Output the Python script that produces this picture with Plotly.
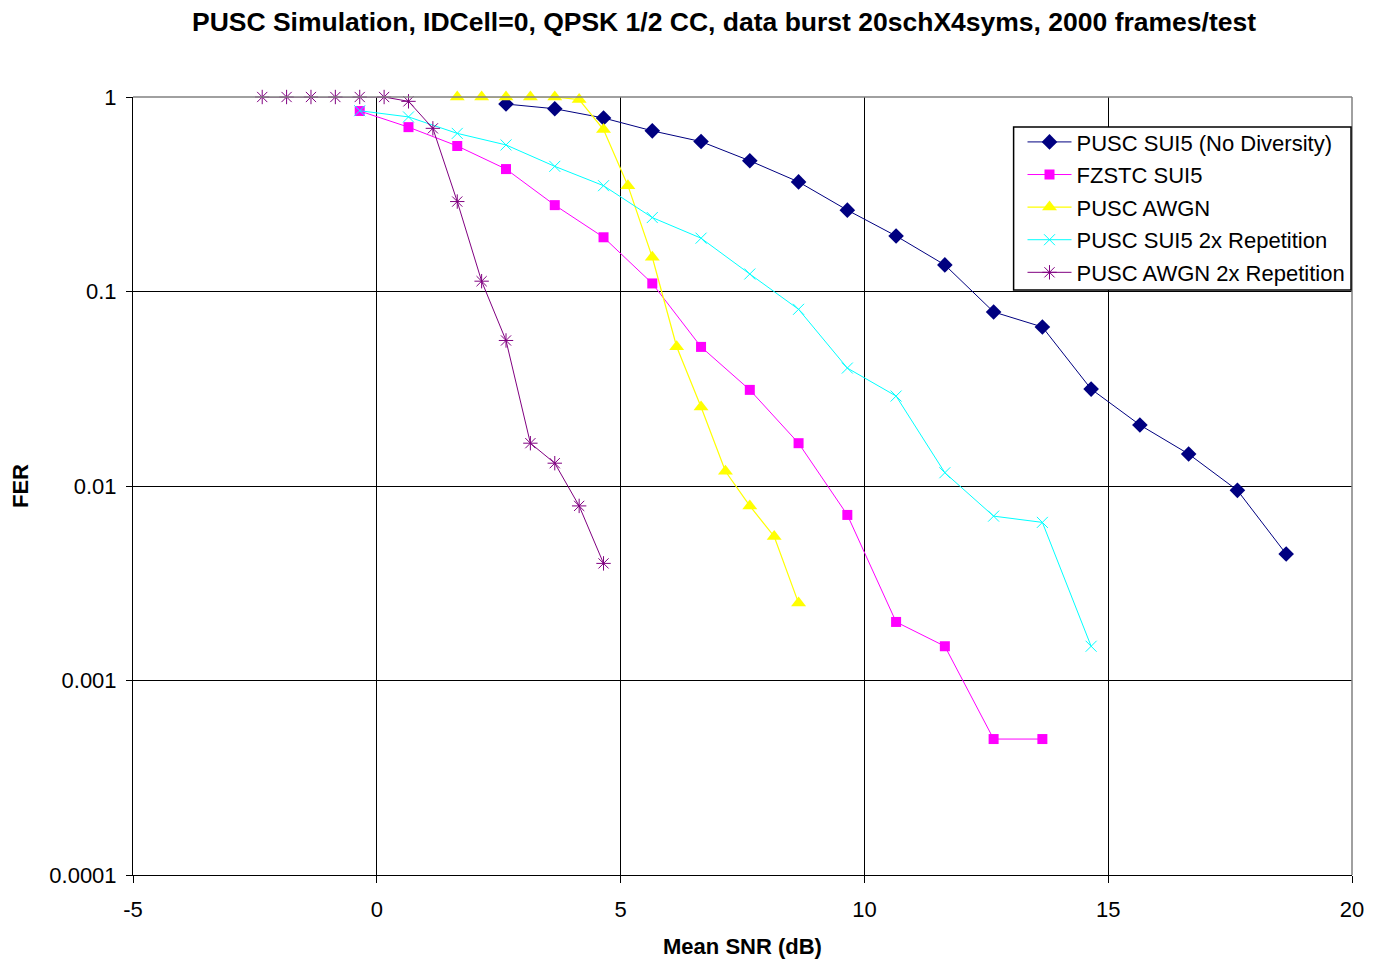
import plotly.graph_objects as go

# ---- data ----
x_pusc_sui5 = [2.65, 3.65, 4.65, 5.65, 6.65, 7.65, 8.65, 9.65, 10.65, 11.65, 12.65, 13.65, 14.65, 15.65, 16.65, 17.65, 18.65]
y_pusc_sui5 = [0.92, 0.87, 0.78, 0.67, 0.59, 0.47, 0.366, 0.262, 0.193, 0.137, 0.0785, 0.0657, 0.0315, 0.0206, 0.0146, 0.0095, 0.00447]

x_fzstc_sui5 = [-0.35, 0.65, 1.65, 2.65, 3.65, 4.65, 5.65, 6.65, 7.65, 8.65, 9.65, 10.65, 11.65, 12.65, 13.65]
y_fzstc_sui5 = [0.847, 0.70, 0.56, 0.426, 0.278, 0.19, 0.11, 0.0519, 0.0312, 0.0166, 0.0071, 0.0020, 0.0015, 0.0005, 0.0005]

x_pusc_awgn = [1.65, 2.15, 2.65, 3.15, 3.65, 4.15, 4.65, 5.15, 5.65, 6.15, 6.65, 7.15, 7.65, 8.15, 8.65]
y_pusc_awgn = [1.0, 1.0, 1.0, 1.0, 1.0, 0.97, 0.68, 0.35, 0.15, 0.052, 0.0255, 0.0119, 0.0079, 0.0055, 0.0025]

x_sui5_rep = [-0.35, 0.65, 1.65, 2.65, 3.65, 4.65, 5.65, 6.65, 7.65, 8.65, 9.65, 10.65, 11.65, 12.65, 13.65, 14.65]
y_sui5_rep = [0.85, 0.79, 0.65, 0.567, 0.44, 0.35, 0.24, 0.188, 0.123, 0.081, 0.0404, 0.029, 0.0117, 0.0070, 0.0065, 0.0015]

x_awgn_rep = [-2.35, -1.85, -1.35, -0.85, -0.35, 0.15, 0.65, 1.15, 1.65, 2.15, 2.65, 3.15, 3.65, 4.15, 4.65]
y_awgn_rep = [1.0, 1.0, 1.0, 1.0, 1.0, 1.0, 0.95, 0.69, 0.29, 0.113, 0.056, 0.0166, 0.0131, 0.0079, 0.0040]

x_tickvals = [-5, 0, 5, 10, 15, 20]
x_ticktext = ["-5", "0", "5", "10", "15", "20"]
y_tickvals = [1, 0.1, 0.01, 0.001, 0.0001]
y_ticktext = ["1", "0.1", "0.01", "0.001", "0.0001"]

title_text = "PUSC Simulation, IDCell=0, QPSK 1/2 CC, data burst 20schX4syms, 2000 frames/test"

FONT = "Arial, Liberation Sans, sans-serif"

fig = go.Figure()

fig.add_trace(go.Scatter(
    x=x_pusc_sui5, y=y_pusc_sui5, name="PUSC SUI5 (No Diversity)", mode="lines+markers",
    legendgroup="g1", cliponaxis=False,
    line=dict(color="#000080", width=1),
    marker=dict(symbol="diamond", size=12, color="#000080")))
fig.add_trace(go.Scatter(
    x=x_fzstc_sui5, y=y_fzstc_sui5, name="FZSTC SUI5", mode="lines+markers",
    legendgroup="g2", cliponaxis=False,
    line=dict(color="#FF00FF", width=1),
    marker=dict(symbol="square", size=10, color="#FF00FF")))
fig.add_trace(go.Scatter(
    x=x_pusc_awgn, y=y_pusc_awgn, name="PUSC AWGN", mode="lines+markers",
    legendgroup="g3", cliponaxis=False,
    line=dict(color="#FFFF00", width=1.2),
    marker=dict(symbol="triangle-up", size=13, color="#FFFF00")))
fig.add_trace(go.Scatter(
    x=x_sui5_rep, y=y_sui5_rep, name="PUSC SUI5 2x Repetition", mode="lines+markers",
    legendgroup="g4", cliponaxis=False,
    line=dict(color="#00FFFF", width=1),
    marker=dict(symbol="x-thin-open", size=11, color="#00FFFF", line=dict(color="#00FFFF", width=1))))
fig.add_trace(go.Scatter(
    x=x_awgn_rep, y=y_awgn_rep, name="PUSC AWGN 2x Repetition", mode="lines+markers",
    legendgroup="g5", cliponaxis=False,
    line=dict(color="#800080", width=1),
    marker=dict(symbol="asterisk-open", size=12, color="#800080", line=dict(color="#800080", width=1))))

fig.update_layout(
    width=1378, height=960,
    paper_bgcolor="white", plot_bgcolor="white",
    margin=dict(l=123, r=34, t=89, b=93),
    font=dict(family=FONT, size=22, color="black"),
    title=dict(text="<b>" + title_text + "</b>", x=0.5196, xanchor="center", y=0.986, yanchor="middle",
               font=dict(family=FONT, size=26.5, color="black")),
    showlegend=True,
    legend=dict(x=0.7297, y=0.969, xanchor="left", yanchor="top",
                bgcolor="rgba(0,0,0,0)", borderwidth=0,
                font=dict(family=FONT, size=22, color="black"),
                itemwidth=44, tracegroupgap=1),
)

fig.update_xaxes(
    range=[-5, 20], tickvals=x_tickvals, ticktext=x_ticktext,
    showgrid=True, gridcolor="black", gridwidth=1,
    showline=True, linecolor="black", linewidth=1, mirror=False,
    ticks="outside", ticklen=7, tickcolor="black", ticklabelstandoff=8,
    zeroline=False,
    tickfont=dict(family=FONT, size=22),
    title=dict(text="<b>Mean SNR (dB)</b>", font=dict(family=FONT, size=22), standoff=17),
)
fig.update_yaxes(
    type="log", range=[-4, 0],
    tickvals=y_tickvals, ticktext=y_ticktext,
    showgrid=True, gridcolor="black", gridwidth=1,
    showline=True, linecolor="black", linewidth=1,
    ticks="outside", ticklen=6, tickcolor="black", ticklabelstandoff=5,
    zeroline=False,
    tickfont=dict(family=FONT, size=22),
    title=dict(text="<b>FER</b>", font=dict(family=FONT, size=22), standoff=14),
)

# grey plot-area border on top and right
fig.add_shape(type="line", xref="paper", yref="paper", x0=0, x1=1, y0=1, y1=1,
              line=dict(color="#808080", width=1.5))
fig.add_shape(type="line", xref="paper", yref="paper", x0=1, x1=1, y0=0, y1=1,
              line=dict(color="#808080", width=1.5))
# legend box
fig.add_shape(type="rect", xref="paper", yref="paper", layer="above",
              x0=0.7224, x1=0.9992, y0=0.7519, y1=0.9614,
              fillcolor="white", line=dict(color="black", width=1.5))

fig.write_html("out.html")
